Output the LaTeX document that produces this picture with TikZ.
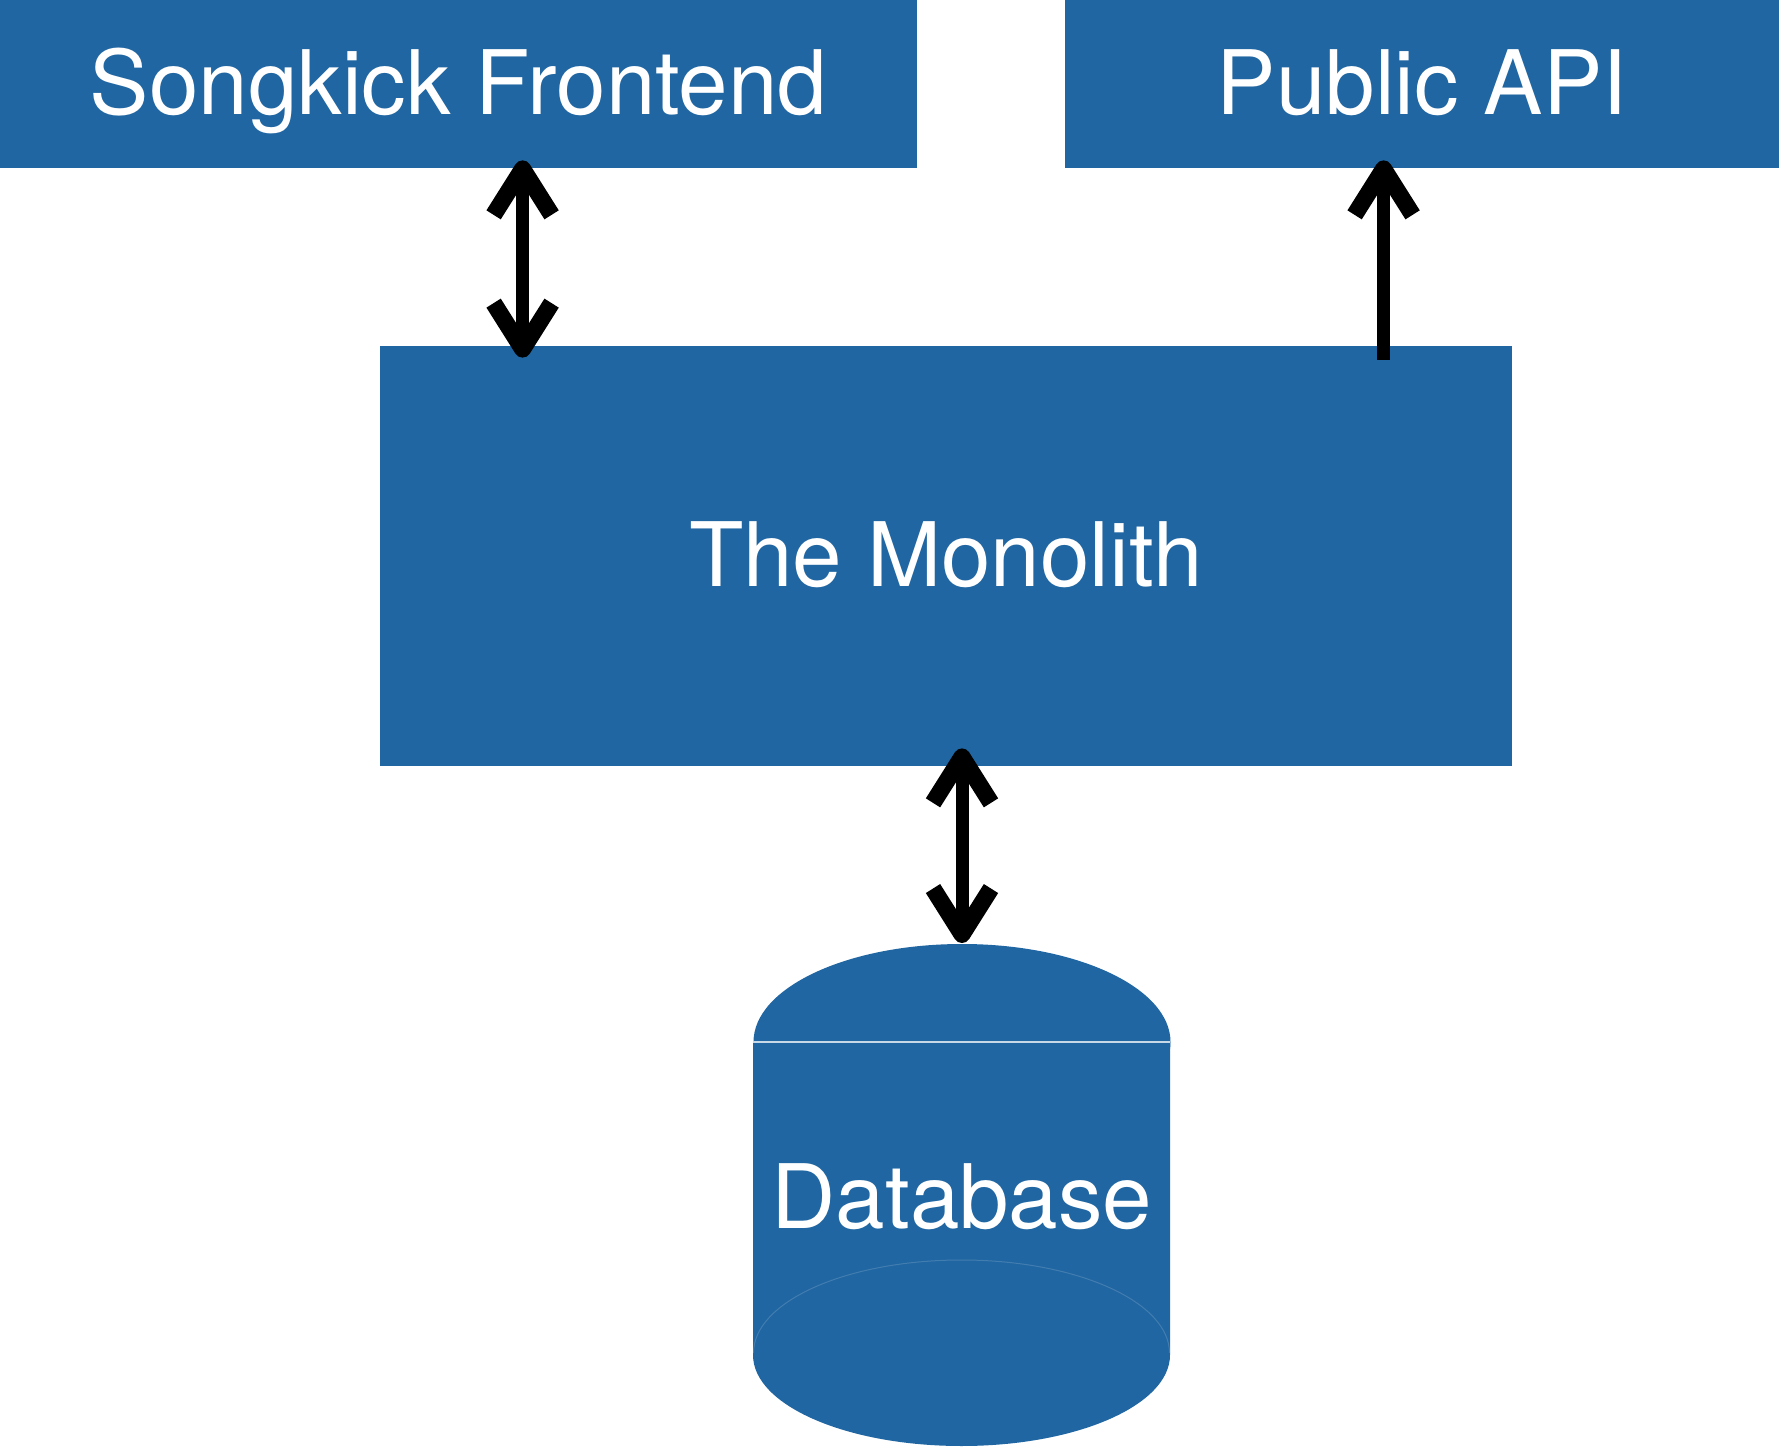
\documentclass[tikz,border=0pt]{standalone}
\usepackage{fontspec}
\setmainfont{TeX Gyre Heros}
\usetikzlibrary{arrows.meta}
\definecolor{skblue}{HTML}{2066A2}
\begin{document}
\begin{tikzpicture}[x=0.5pt,y=-0.5pt,
  box/.style={fill=skblue, draw=none, inner sep=0pt, text=white,
    font=\fontsize{44.5}{50}\selectfont, text height=31pt, text depth=0pt, align=center},
  link/.style={line width=6.5pt, draw=black},
  barb/.tip={Straight Barb[length=23pt, width=29pt, line width=0pt 1.3, line cap=butt, line join=round]}
]
\useasboundingbox (0,0) rectangle (1779,1449);
\node[box, minimum width=917*0.5pt, minimum height=168*0.5pt] (fe) at (458.5,84) {Songkick Frontend};
\node[box, minimum width=714*0.5pt, minimum height=168*0.5pt] (api) at (1422,84) {Public API};
\node[box, minimum width=1132*0.5pt, minimum height=420*0.5pt] (mono) at (946,556) {The Monolith};
% database cylinder
\fill[skblue] (753,1042) -- (753,1355) arc[start angle=180, end angle=0, x radius=208.5, y radius=91] -- (1170,1042) -- cycle;
\fill[skblue] (962,1042) ellipse[x radius=208.5, y radius=98];
\draw[white!75!skblue, line width=0.6pt] (753,1042) -- (1170,1042);
\draw[white!15!skblue, line width=0.5pt] (753.5,1353) arc[start angle=180, end angle=360, x radius=208, y radius=93];
\coordinate (dbtop) at (962,944);
\node[box, fill=none, minimum width=417*0.5pt] (db) at (962,1197) {Database};
% connectors
\path (mono.north west) ++(143,0) coordinate (m1);
\path (mono.north west) ++(1004,0) coordinate (m2);
\draw[link, barb-barb] ([yshift=4pt]fe.south -| m1) -- ([yshift=-6pt]m1);
\draw[link, -barb] ([yshift=-7pt]m2) -- ([yshift=4pt]api.south -| m2);
\draw[link, barb-barb] ([yshift=9pt]mono.south -| dbtop) -- ([yshift=0.5pt]dbtop);
\end{tikzpicture}
\end{document}
